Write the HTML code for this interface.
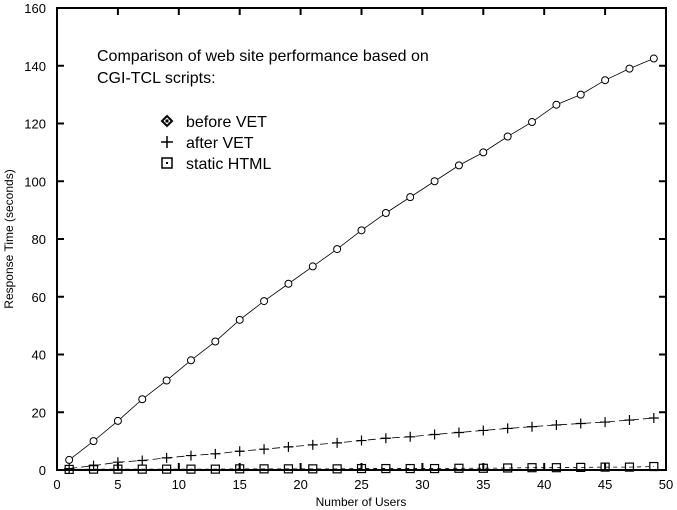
<!DOCTYPE html>
<html><head><meta charset="utf-8"><style>body{margin:0;background:#fff}svg{display:block;font-family:"Liberation Sans",sans-serif}</style></head>
<body>
<svg id="s" width="677" height="510" xmlns="http://www.w3.org/2000/svg">
<rect x="57" y="8" width="609" height="462" fill="none" stroke="#000" stroke-width="2"/>
<g id="g"></g>
<text x="97" y="61" font-size="16">Comparison of web site performance based on</text>
<text x="97" y="83" font-size="16">CGI-TCL scripts:</text>
<path d="M167 116 l5 5 l-5 5 l-5 -5z" fill="none" stroke="#000" stroke-width="2"/>
<rect x="165.5" y="119.5" width="3" height="3" fill="#000"/>
<text x="186" y="127" font-size="16">before VET</text>
<path d="M161 142 h12 M167 136 v12" stroke="#000" stroke-width="1.5"/>
<text x="186" y="148" font-size="16">after VET</text>
<rect x="162" y="158" width="10" height="10" fill="none" stroke="#000" stroke-width="1.5"/>
<rect x="166" y="162" width="2" height="2" fill="#000"/>
<text x="186" y="169" font-size="16">static HTML</text>
<text x="361" y="506" font-size="12" text-anchor="middle">Number of Users</text>
<text transform="translate(13,239) rotate(-90)" font-size="12" text-anchor="middle">Response Time (seconds)</text>
</svg>
<script>
var g=document.getElementById('g'),h='';
function X(v){return 57+v*12.18}function Y(v){return 470-v*2.8875}
for(var i=0;i<=50;i+=5){var x=X(i);h+='<line x1="'+x+'" y1="470" x2="'+x+'" y2="463" stroke="#000" stroke-width="2"/><line x1="'+x+'" y1="8" x2="'+x+'" y2="15" stroke="#000" stroke-width="2"/><text x="'+x+'" y="489" font-size="13" text-anchor="middle">'+i+'</text>';}
for(var i=0;i<=160;i+=20){var y=Y(i);h+='<line x1="57" y1="'+y+'" x2="64" y2="'+y+'" stroke="#000" stroke-width="2"/><line x1="666" y1="'+y+'" x2="659" y2="'+y+'" stroke="#000" stroke-width="2"/><text x="46" y="'+(y+5)+'" font-size="13" text-anchor="end">'+i+'</text>';}
var a=[3.5,10,17,24.5,31,38,44.5,52,58.5,64.5,70.5,76.5,83,89,94.5,100,105.5,110,115.5,120.5,126.5,130,135,139,142.5];
var b=[0.5,1.5,2.7,3.3,4.2,5,5.6,6.5,7.2,8,8.7,9.4,10.2,11,11.5,12.3,13,13.7,14.4,15,15.6,16.1,16.6,17.3,18];
var c=[0.2,0.3,0.3,0.3,0.3,0.3,0.3,0.4,0.4,0.4,0.4,0.4,0.5,0.5,0.5,0.5,0.6,0.6,0.7,0.8,0.8,0.9,1,1,1.2];
function pts(d){return d.map(function(v,i){return X(1+2*i)+','+Y(v)}).join(' ')}
h+='<polyline points="'+pts(a)+'" fill="none" stroke="#000" stroke-width="0.8"/>';
h+='<polyline points="'+pts(b)+'" fill="none" stroke="#000" stroke-width="0.8" stroke-dasharray="8,4"/>';
h+='<polyline points="'+pts(c)+'" fill="none" stroke="#000" stroke-width="0.8" stroke-dasharray="4,4"/>';
a.forEach(function(v,i){h+='<circle cx="'+X(1+2*i)+'" cy="'+Y(v)+'" r="3.5" fill="#fff" stroke="#000" stroke-width="1"/>'});
b.forEach(function(v,i){var x=X(1+2*i),y=Y(v);h+='<path d="M'+(x-5)+' '+y+'h10M'+x+' '+(y-5)+'v10" stroke="#000" stroke-width="1.2"/>'});
c.forEach(function(v,i){var x=X(1+2*i),y=Y(v);h+='<rect x="'+(x-4)+'" y="'+(y-4)+'" width="8" height="8" fill="none" stroke="#000" stroke-width="1.2"/>'});
g.innerHTML=h;
</script>
</body></html>
